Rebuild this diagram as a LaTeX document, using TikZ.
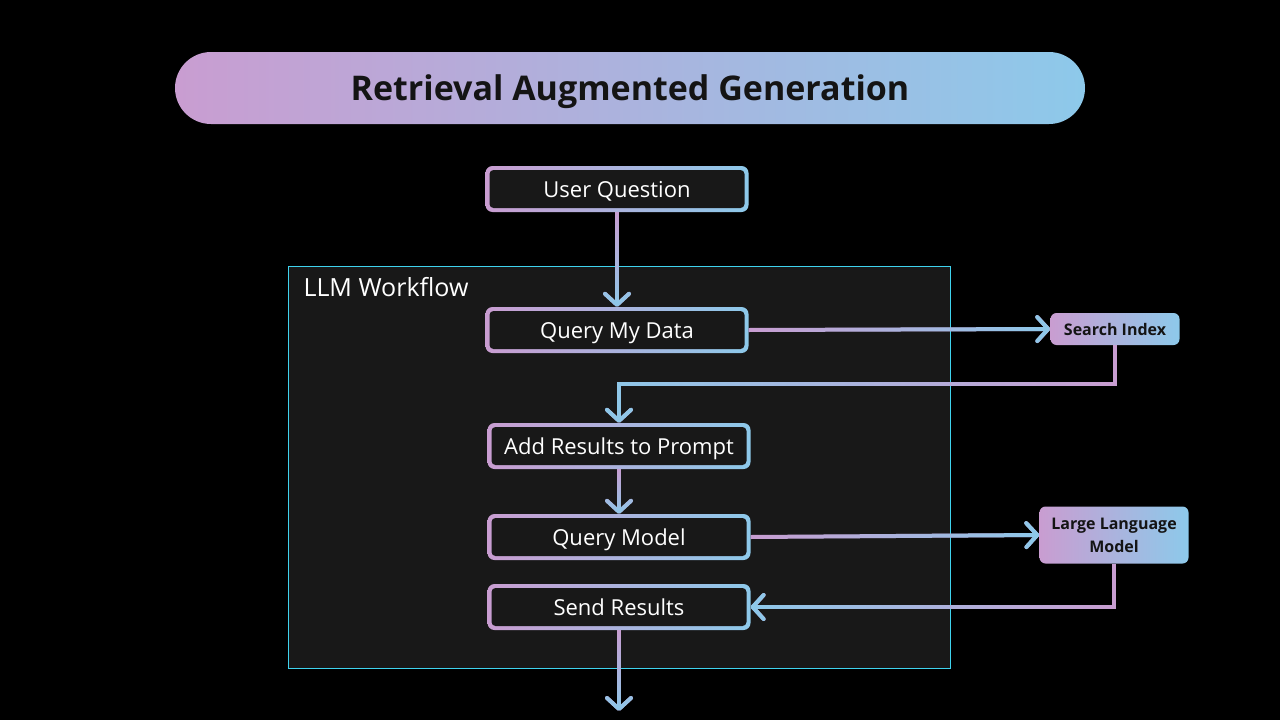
\documentclass[tikz,border=0pt]{standalone}
\usepackage{fontspec}
\setmainfont{Open Sans}
\usetikzlibrary{arrows.meta,fadings}
\definecolor{pinkc}{HTML}{C99DD1}
\definecolor{bluec}{HTML}{8DC9EA}
\definecolor{boxbg}{HTML}{181818}
\definecolor{framec}{HTML}{3FD3EE}
\definecolor{inkc}{HTML}{141414}
\tikzset{
  stepbox/.style={minimum width=263pt, minimum height=46pt, inner sep=0pt,
    rounded corners=7pt, fill=boxbg, text=white,
    text height=16pt, text depth=0pt,
    font=\fontsize{22}{26}\selectfont,
    path picture={
      \shade[left color=pinkc, right color=bluec]
        (path picture bounding box.south west) rectangle (path picture bounding box.north east);
      \fill[boxbg, rounded corners=4pt]
        ([shift={(4pt,4pt)}]path picture bounding box.south west)
        rectangle ([shift={(-4pt,-4pt)}]path picture bounding box.north east);}},
  tagbox/.style={left color=pinkc, right color=bluec, rounded corners=6pt,
    inner sep=0pt, text=inkc, align=center,
    font=\bfseries\fontsize{16}{23}\selectfont},
  conn/.style={line width=4pt, draw=pinkc,
    -{Straight Barb[length=11pt,width=24pt,round]},
    postaction={draw=bluec, path fading=#1}}
}
\begin{document}
\begin{tikzpicture}[x=1pt,y=-1pt]
    \useasboundingbox (0,0) rectangle (1280,720);
    \fill[black] (0,0) rectangle (1280,720);
    % title
    \node[left color=pinkc, right color=bluec, rounded corners=36pt,
        minimum width=910pt, minimum height=72pt, text=inkc,
        text height=25pt, text depth=0pt,
        font=\bfseries\fontsize{34}{40}\selectfont]
        (title) at (630,88) {Retrieval Augmented Generation};
    % workflow frame
    \node[draw=framec, line width=1pt, fill=boxbg,
        minimum width=662pt, minimum height=402pt]
        (wf) at (619,467) {};
    \node[anchor=base west, text=white, font=\fontsize{25}{28}\selectfont]
        (wflabel) at (300,296) {LLM Workflow};
    % steps
    \node[stepbox] (uq) at (617,189) {User Question};
    \node[stepbox] (qmd) at (617,330) {Query My Data};
    \node[stepbox] (ar) at (619,446) {Add Results to Prompt};
    \node[stepbox] (qm) at (619,537) {Query Model};
    \node[stepbox] (sr) at (619,607) {Send Results};
    % services
    \node[tagbox, minimum width=129pt, minimum height=32pt]
        (si) at (1115,329) {Search Index};
    \node[tagbox, minimum width=149pt, minimum height=57pt]
        (llm) at (1114,535) {Large Language\\Model};
    \coordinate (out) at (619,711);
    % connectors
    \draw[conn=north] ([xshift=-16pt]uq.south) ++(32pt,0)
        (uq.south) -- (qmd.north);
    \draw[conn=west] ([yshift=16pt]qmd.east) ++(0,-32pt)
        (qmd.east) -- (si.west);
    \draw[conn=east] ([xshift=-20pt]ar.north)
        (si.south) -- ++(0,39) -| (ar.north);
    \draw[conn=north] ([xshift=-16pt]ar.south) ++(32pt,0)
        (ar.south) -- (qm.north);
    \draw[conn=west] ([yshift=16pt]qm.east) ++(0,-32pt)
        (qm.east) -- (llm.west);
    \draw[conn=east] ([yshift=-20pt]sr.east)
        (llm.south) |- (sr.east);
    \draw[conn=north] ([xshift=-16pt]sr.south) ++(32pt,0)
        (sr.south) -- (out);
\end{tikzpicture}
\end{document}
